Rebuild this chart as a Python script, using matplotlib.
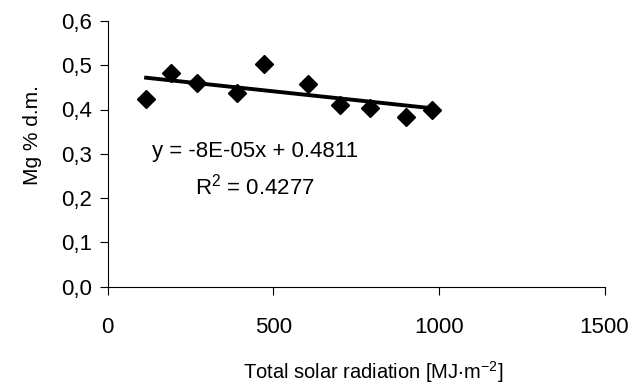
import numpy as np
import matplotlib
matplotlib.use('Agg')
import matplotlib.pyplot as plt

plt.rcParams['font.family'] = ['Liberation Sans', 'DejaVu Sans']

# solar radiation [MJ m-2] and Mg content [% d.m.]
radiation = [116, 192, 270, 390, 473, 604, 702, 792, 901, 980]
mg = [0.424, 0.483, 0.460, 0.438, 0.502, 0.457, 0.411, 0.403, 0.384, 0.400]

# trend line as reported
slope = -8e-05
intercept = 0.4811
eq_text = 'y = -8E-05x + 0.4811'
r2_text = '$\\mathregular{R^2}$ = 0.4277'

xticks = [0, 500, 1000, 1500]
yticks = [0.0, 0.1, 0.2, 0.3, 0.4, 0.5, 0.6]
ytick_labels = ['0,0', '0,1', '0,2', '0,3', '0,4', '0,5', '0,6']

fig = plt.figure(figsize=(6.35, 3.87), dpi=100)
ax = fig.add_axes([107.7 / 635, 1 - 286.5 / 387, 496.8 / 635, 265.5 / 387])

xl = np.array([min(radiation), max(radiation)])
ax.plot(xl, slope * xl + intercept, color='black', lw=2.8, zorder=2)
ax.plot(radiation, mg, 'D', color='black', ms=9, zorder=3)

ax.set_xlim(0, 1500)
ax.set_ylim(0, 0.6)
ax.set_xticks(xticks)
ax.set_yticks(yticks)
ax.set_yticklabels(ytick_labels)
ax.spines['top'].set_visible(False)
ax.spines['right'].set_visible(False)
for s in ('left', 'bottom'):
    ax.spines[s].set_linewidth(0.8)
ax.tick_params(axis='both', direction='out', length=6, width=0.8,
               labelsize=16)
ax.tick_params(axis='x', pad=16)
ax.tick_params(axis='y', pad=5)

ax.text(445, 0.293, eq_text, fontsize=16, ha='center', va='baseline')
ax.text(445, 0.208, r2_text, fontsize=16, ha='center', va='baseline')

fig.text(33 / 635, 1 - 135 / 387, 'Mg % d.m.', rotation=90, fontsize=15,
         ha='center', va='center')
fig.text(373 / 635, 1 - 379 / 387,
         'Total solar radiation [MJ$\\mathregular{\\cdot}$m$\\mathregular{^{-2}}$]',
         fontsize=14.5, ha='center', va='baseline')

fig.savefig('out.png', dpi=100)
